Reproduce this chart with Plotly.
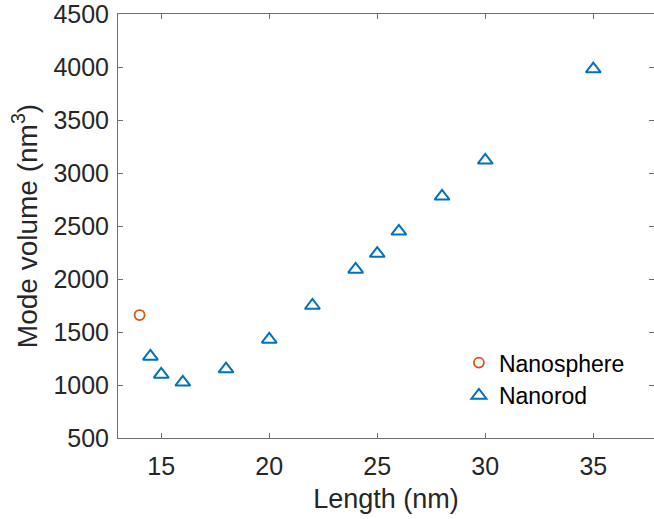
import plotly.graph_objects as go

sphere_x = [14]
sphere_y = [1660]
rod_x = [14.5, 15, 16, 18, 20, 22, 24, 25, 26, 28, 30, 35]
rod_y = [1270, 1100, 1025, 1150, 1430, 1750, 2090, 2240, 2450, 2780, 3120, 3980]

x_ticks = [15, 20, 25, 30, 35]
y_ticks = [500, 1000, 1500, 2000, 2500, 3000, 3500, 4000, 4500]

FONT = "Liberation Sans, Arial, sans-serif"
TXT = "#262626"

fig = go.Figure()
fig.add_trace(go.Scatter(
    x=sphere_x, y=sphere_y, mode="markers", name="Nanosphere",
    marker=dict(symbol="circle-open", size=10, color="#D95319",
                line=dict(width=1.8, color="#D95319")),
))
fig.add_trace(go.Scatter(
    x=rod_x, y=rod_y, mode="markers", name="Nanorod",
    marker=dict(symbol="triangle-up-open", size=13, color="#0072BD",
                line=dict(width=2, color="#0072BD")),
))

axis_common = dict(
    showgrid=False, zeroline=False, showline=True, linecolor="#6e6e6e",
    linewidth=1, mirror="ticks", ticks="inside", ticklen=5,
    tickcolor="#6e6e6e", tickwidth=1, ticklabeloverflow="allow",
    tickfont=dict(family=FONT, size=25, color=TXT),
)

fig.update_layout(
    width=654, height=519,
    margin=dict(l=118, r=0, t=14, b=81),
    paper_bgcolor="white", plot_bgcolor="white",
    font=dict(family=FONT, color=TXT),
    xaxis=dict(range=[13, 37.81], tickvals=x_ticks, ticklabelstandoff=6,
               title=dict(text="Length (nm)", font=dict(family=FONT, size=27, color=TXT), standoff=10),
               **axis_common),
    yaxis=dict(range=[500, 4500], tickvals=y_ticks, ticklabelstandoff=3,
               title=dict(text="Mode volume (nm<sup>3</sup>)", font=dict(family=FONT, size=28, color=TXT), standoff=7),
               **axis_common),
    legend=dict(x=0.636, y=0.2285, xanchor="left", yanchor="top",
                bgcolor="rgba(0,0,0,0)", borderwidth=0,
                font=dict(family=FONT, size=23, color="#000000"),
                tracegroupgap=0),
    showlegend=True,
)

fig.write_html("out.html")
